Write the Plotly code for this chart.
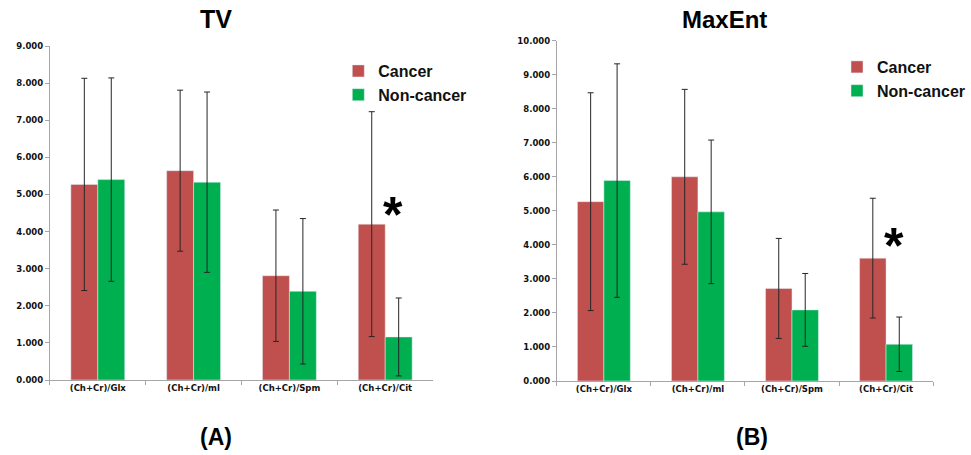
import plotly.graph_objects as go

categories = ["(Ch+Cr)/Glx", "(Ch+Cr)/ml", "(Ch+Cr)/Spm", "(Ch+Cr)/Cit"]

tv_cancer = [5.27, 5.64, 2.81, 4.20]
tv_cancer_err = [2.86, 2.17, 1.77, 3.03]
tv_noncancer = [5.40, 5.33, 2.39, 1.16]
tv_noncancer_err = [2.74, 2.43, 1.96, 1.05]

me_cancer = [5.27, 6.00, 2.72, 3.61]
me_cancer_err = [3.20, 2.57, 1.47, 1.76]
me_noncancer = [5.89, 4.97, 2.09, 1.08]
me_noncancer_err = [3.43, 2.11, 1.07, 0.80]

tv_ticks = [0, 1, 2, 3, 4, 5, 6, 7, 8, 9]
me_ticks = [0, 1, 2, 3, 4, 5, 6, 7, 8, 9, 10]

# significance marker (category index + offset, value)
tv_star = (3.08, 4.67)
me_star = (3.08, 4.19)

RED = "#C0504D"
GREEN = "#00B050"
ERR = "#262626"

W = 971
H = 455


def px(x):
    return x / W


def py(y):
    return 1 - y / H


fig = go.Figure()


def add_pair(c, ce, n, ne, xa, ya, leg):
    fig.add_trace(go.Bar(
        x=categories, y=c, name="Cancer", marker_color=RED,
        error_y=dict(type="data", array=ce, color=ERR, thickness=1, width=3),
        xaxis=xa, yaxis=ya, legend=leg))
    fig.add_trace(go.Bar(
        x=categories, y=n, name="Non-cancer", marker_color=GREEN,
        error_y=dict(type="data", array=ne, color=ERR, thickness=1, width=3),
        xaxis=xa, yaxis=ya, legend=leg))


add_pair(tv_cancer, tv_cancer_err, tv_noncancer, tv_noncancer_err, "x", "y", "legend")
add_pair(me_cancer, me_cancer_err, me_noncancer, me_noncancer_err, "x2", "y2", "legend2")

tickfont = dict(family="DejaVu Sans", size=8.5, color="#111", weight="bold")
axis_line = "#A6A6A6"

xcommon = dict(type="category", showgrid=False, showline=True, linecolor=axis_line,
               linewidth=1, ticks="outside", tickson="boundaries", ticklen=4,
               tickcolor=axis_line, tickfont=tickfont, zeroline=False, automargin=False)
ycommon = dict(showgrid=False, showline=True, linecolor=axis_line, linewidth=1,
               ticks="outside", ticklen=4, tickcolor=axis_line, tickfont=tickfont,
               tickformat=".3f", zeroline=False, automargin=False)

legfont = dict(family="Liberation Sans", size=16, color="#111", weight="bold")

fig.update_layout(
    width=W, height=H,
    margin=dict(l=0, r=0, t=0, b=0),
    paper_bgcolor="white", plot_bgcolor="white",
    barmode="group", bargap=0.4375, bargroupgap=0,
    xaxis=dict(domain=[px(50), px(434)], anchor="y", **xcommon),
    yaxis=dict(domain=[py(380), py(46)], range=[0, 9], tickvals=tv_ticks, anchor="x", **ycommon),
    xaxis2=dict(domain=[px(558), px(935)], anchor="y2", **xcommon),
    yaxis2=dict(domain=[py(381), py(40.7)], range=[0, 10], tickvals=me_ticks, anchor="x2", **ycommon),
    legend=dict(x=px(339), y=py(54), xanchor="left", yanchor="top", font=legfont,
                bgcolor="rgba(0,0,0,0)", tracegroupgap=0),
    legend2=dict(x=px(839), y=py(50), xanchor="left", yanchor="top", font=legfont,
                 bgcolor="rgba(0,0,0,0)", tracegroupgap=0),
    showlegend=True,
)

titlefont = dict(family="Liberation Sans", size=25, color="black", weight="bold")
labfont = dict(family="Liberation Sans", size=23, color="black", weight="bold")
fig.add_annotation(text="TV", x=px(216), y=py(19), xref="paper", yref="paper",
                   showarrow=False, font=titlefont, xanchor="center", yanchor="middle")
fig.add_annotation(text="MaxEnt", x=px(726), y=py(20), xref="paper", yref="paper",
                   showarrow=False, font=dict(titlefont, size=24), xanchor="center", yanchor="middle")
fig.add_annotation(text="(A)", x=px(216), y=py(437), xref="paper", yref="paper",
                   showarrow=False, font=labfont, xanchor="center", yanchor="middle")
fig.add_annotation(text="(B)", x=px(754), y=py(437), xref="paper", yref="paper",
                   showarrow=False, font=labfont, xanchor="center", yanchor="middle")

starfont = dict(family="Liberation Sans", size=50, color="black", weight="bold")
fig.add_annotation(text="*", x=tv_star[0], y=tv_star[1], xref="x", yref="y",
                   showarrow=False, font=starfont, xanchor="center", yanchor="middle", yshift=-8)
fig.add_annotation(text="*", x=me_star[0], y=me_star[1], xref="x2", yref="y2",
                   showarrow=False, font=starfont, xanchor="center", yanchor="middle", yshift=-8)

fig.write_html("out.html", config={"displayModeBar": False},
               post_script="document.body.style.margin='0';")
